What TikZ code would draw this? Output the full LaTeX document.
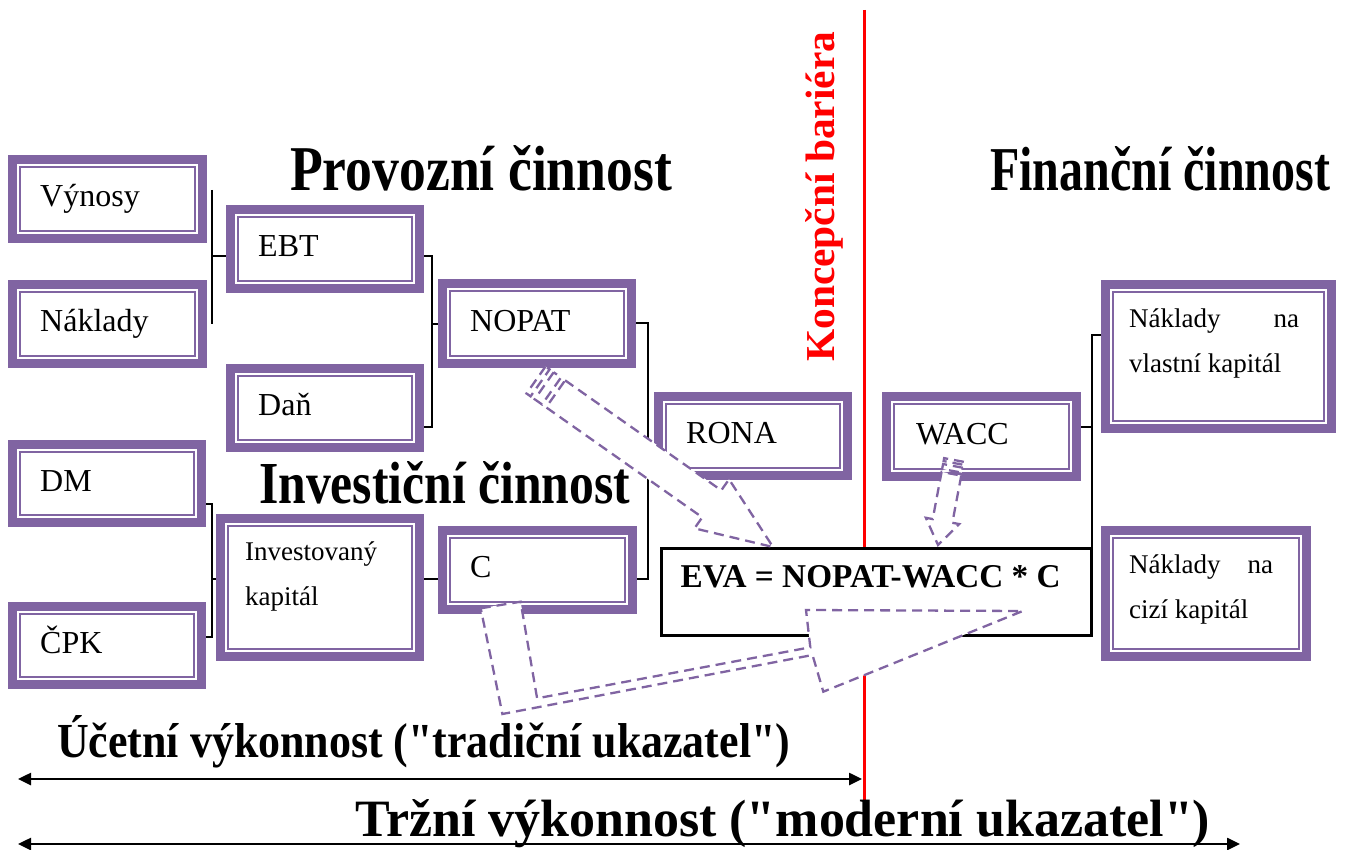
\documentclass[tikz,border=0pt]{standalone}
\usepackage{fontspec}
\setmainfont{Liberation Serif}
\newfontfamily\headfont{Liberation Serif}[Ligatures=TeXOff]
\usetikzlibrary{arrows.meta}
\definecolor{boxpurple}{RGB}{128,100,162}
\definecolor{barred}{RGB}{255,0,0}

\tikzset{
  pbox/.style={draw=boxpurple, line width=9pt, fill=white, inner sep=0pt,
    path picture={\draw[boxpurple, line width=2pt]
      ([shift={(7.5pt,-7.5pt)}]path picture bounding box.north west) rectangle
      ([shift={(-7.5pt,7.5pt)}]path picture bounding box.south east);}},
  evabox/.style={draw=black, line width=3pt, fill=white, inner sep=0pt},
  lab/.style={inner sep=0pt, anchor=base west, font=\fontsize{32}{38}\selectfont},
  labsm/.style={inner sep=0pt, anchor=base west, font=\fontsize{27}{45}\selectfont},
  conn/.style={draw=black, line width=1.8pt},
  blockarrow/.style={draw=boxpurple, fill=white, line width=2.3pt,
    dash pattern=on 10pt off 6pt, line join=miter},
  heading/.style={inner sep=0pt, anchor=base west, font=\headfont\fontsize{50}{60}\selectfont\bfseries},
  span/.style={line width=2.5pt,
    {Triangle[length=13pt,width=12pt]}-{Triangle[length=13pt,width=12pt]}},
}

\begin{document}
\begin{tikzpicture}[x=1pt, y=-1pt]
\useasboundingbox (0,0) rectangle (1346,850);

% junction points of the tree connectors
\coordinate (j1t) at (212,190);
\coordinate (j1b) at (212,324);
\coordinate (j1)  at (212,256);
\coordinate (j2t) at (432,256);
\coordinate (j2b) at (432,427);
\coordinate (j2m) at (432,324);
\coordinate (j3t) at (648,323);
\coordinate (j3b) at (648,579);
\coordinate (j4t) at (212,504);
\coordinate (j4b) at (212,637);
\coordinate (j4m) at (212,579);
\coordinate (j6t) at (1092,335);
\coordinate (j6m) at (1092,427);

% boxes
\node[pbox, minimum width=190pt, minimum height=79pt] (vyn)   at (107.5,199)   {};
\node[pbox, minimum width=190pt, minimum height=79pt] (nak)   at (107.5,324)   {};
\node[pbox, minimum width=189pt, minimum height=79pt] (ebt)   at (325,249)     {};
\node[pbox, minimum width=189pt, minimum height=79pt] (dan)   at (325,408)     {};
\node[pbox, minimum width=189pt, minimum height=80pt] (nopat) at (537,323.5)   {};
\node[pbox, minimum width=189pt, minimum height=79pt] (rona)  at (753,436)     {};
\node[pbox, minimum width=189pt, minimum height=78pt] (dm)    at (107,483.5)   {};
\node[pbox, minimum width=189pt, minimum height=78pt] (cpk)   at (107,645.5)   {};
\node[pbox, minimum width=199pt, minimum height=138pt] (ik)   at (320,587.5)   {};
\node[pbox, minimum width=190pt, minimum height=79pt] (c)     at (537.5,570)   {};
\node[pbox, minimum width=190pt, minimum height=80pt] (wacc)  at (981.5,436.5) {};
\node[pbox, minimum width=226pt, minimum height=144pt] (nvk)  at (1218.5,356.5) {};
\node[pbox, minimum width=201pt, minimum height=126pt] (nck)  at (1206,593.5)  {};

% tree connectors
\draw[conn] (j1t) -- (j1b);
\draw[conn] (j1) -- (ebt.west |- j1);
\draw[conn] (ebt.east |- j2t) -- (j2t) -- (j2b) -- (dan.east |- j2b);
\draw[conn] (j2m) -- (nopat.west |- j2m);
\draw[conn] (nopat.east |- j3t) -- (j3t) -- (j3b) -- (c.east |- j3b);
\draw[conn] (dm.east |- j4t) -- (j4t) -- (j4b) -- (cpk.east |- j4b);
\draw[conn] (j4m) -- (ik.west |- j4m);
\draw[conn] (ik.east |- j4m) -- (c.west |- j4m);
\draw[conn] (nvk.west |- j6t) -- (j6t) -- (j6t |- 0,547);
\draw[conn] (wacc.east |- j6m) -- (j6m);

% barrier line
\coordinate (bartop) at (864,10);
\coordinate (barbot) at (864,800);
\draw[barred, line width=3pt] (bartop) -- (barbot);

\node[evabox, minimum width=430pt, minimum height=87pt] (eva) at (876.5,592) {};

% box labels
\node[lab] (tvyn)   at ([shift={(32pt,-7.5pt)}]vyn.west)   {Výnosy};
\node[lab] (tnak)   at ([shift={(32pt,-7.5pt)}]nak.west)   {Náklady};
\node[lab] (tebt)   at ([shift={(32pt,-7.5pt)}]ebt.west)   {EBT};
\node[lab] (tdan)   at ([shift={(32pt,-7.5pt)}]dan.west)   {Daň};
\node[lab] (tnopat) at ([shift={(32pt,-7.5pt)}]nopat.west) {NOPAT};
\node[lab] (trona)  at ([shift={(32pt,-7.5pt)}]rona.west)  {RONA};
\node[lab] (tdm)    at ([shift={(32pt,-7.5pt)}]dm.west)    {DM};
\node[lab] (tcpk)   at ([shift={(32pt,-7.5pt)}]cpk.west)   {ČPK};
\node[lab] (tc)     at ([shift={(32pt,-7.5pt)}]c.west)     {C};
\node[lab] (twacc)  at ([shift={(34pt,-7.5pt)}]wacc.west)  {WACC};
\node[labsm] (tik)  at ([shift={(29pt,27.5pt)}]ik.west)
  {\begin{tabular}[t]{@{}l@{}}Investovaný\\kapitál\end{tabular}};
\node[labsm] (tnvk) at ([shift={(28pt,29.5pt)}]nvk.west)
  {\begin{tabular}[t]{@{}l@{}}\makebox[170pt][s]{Náklady na}\\vlastní kapitál\end{tabular}};
\node[labsm] (tnck) at ([shift={(28pt,20.5pt)}]nck.west)
  {\begin{tabular}[t]{@{}l@{}}\makebox[144pt][s]{Náklady na}\\cizí kapitál\end{tabular}};
\node[inner sep=0pt, anchor=base west, font=\fontsize{32}{38}\selectfont\bfseries] (teva)
  at ([shift={(20.5pt,5pt)}]eva.west) {\resizebox{380pt}{!}{EVA = NOPAT-WACC * C}};

% dashed block arrows
\begin{scope}[shift={(536,380)}, rotate=-35.17]
  \draw[blockarrow] (0,-16.5) rectangle (5,16.5);
  \draw[blockarrow] (10,-16.5) rectangle (19,16.5);
  \draw[blockarrow] (24,-16.5) -- (215,-16.5) -- (215,-30) -- (290,0)
    -- (215,30) -- (215,16.5) -- (24,16.5) -- cycle;
\end{scope}
\begin{scope}[shift={(954,460)}, rotate=-100.66]
  \draw[blockarrow] (0,-10) rectangle (3,10);
  \draw[blockarrow] (6,-10) rectangle (11,10);
  \draw[blockarrow] (14,-10) -- (62,-10) -- (62,-17) -- (86.5,0)
    -- (62,17) -- (62,10) -- (14,10) -- cycle;
\end{scope}
\draw[blockarrow] (480.7,608.3) -- (520.6,601.7) -- (537.1,698.3) -- (810.3,647.3)
  -- (806,610) -- (1022.8,611) -- (823.3,691.7) -- (812.5,655) -- (502.4,714) -- cycle;

% headings
\node[heading] (hprov) at (290,191) {\resizebox{382pt}{45pt}{Provozní činnost}};
\node[heading] (hfin)  at (990,191) {\resizebox{340pt}{44pt}{Finanční činnost}};
\node[heading] (hinv)  at (259,503) {\resizebox{371pt}{42pt}{Investiční činnost}};
\node[heading] (hucet) at (57,757)  {\resizebox{733pt}{42pt}{Účetní výkonnost ("tradiční ukazatel")}};
\node[heading] (htrz)  at (355,836) {\resizebox{855pt}{37pt}{Tržní výkonnost ("moderní ukazatel")}};

\node[rotate=90, anchor=base west, inner sep=0pt, text=barred,
  font=\fontsize{40}{48}\selectfont\bfseries] (hbar) at (834,362)
  {\resizebox{330pt}{29pt}{Koncepční bariéra}};

% performance spans
\coordinate (ua) at (18,779);
\coordinate (ub) at (862,779);
\coordinate (ta) at (18,844);
\coordinate (tb) at (1240,844);
\draw[span] (ua) -- (ub);
\draw[span] (ta) -- (tb);
\end{tikzpicture}
\end{document}
